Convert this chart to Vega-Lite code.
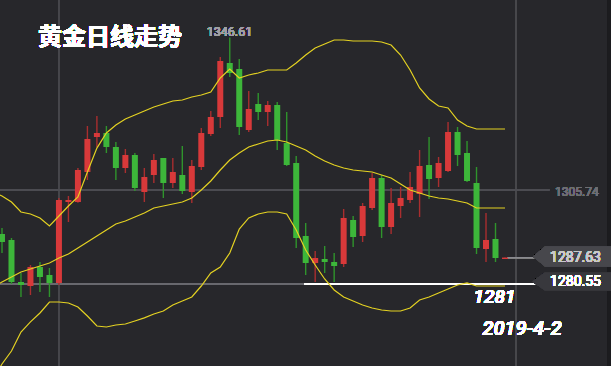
{
  "$schema": "https://vega.github.io/schema/vega-lite/v6.json",
  "width": 611,
  "height": 366,
  "autosize": {"type": "none"},
  "padding": 0,
  "background": "#27272b",
  "config": {"view": {"stroke": null}, "axis": {"domain": false}, "scale": {"continuousPadding": 0}},
  "data": {"values": [
    {"i": -1, "open": null, "high": null, "low": null, "close": null, "upper": 1305.2, "mid": 1279.7, "lower": 1254.8},
    {"i": 0, "open": 1293.95, "high": 1295.56, "low": 1288.86, "close": 1291.80, "upper": 1304.13, "mid": 1281.08, "lower": 1259.11},
    {"i": 1, "open": 1292.34, "high": 1292.88, "low": 1280.55, "close": 1281.08, "upper": 1302.52, "mid": 1282.42, "lower": 1262.59},
    {"i": 2, "open": 1281.08, "high": 1283.50, "low": 1277.06, "close": 1280.28, "upper": 1299.84, "mid": 1283.76, "lower": 1267.68},
    {"i": 3, "open": 1280.01, "high": 1285.64, "low": 1277.60, "close": 1285.10, "upper": 1299.31, "mid": 1284.57, "lower": 1270.38},
    {"i": 4, "open": 1285.10, "high": 1286.44, "low": 1278.40, "close": 1282.42, "upper": 1298.24, "mid": 1285.37, "lower": 1272.77},
    {"i": 5, "open": 1282.96, "high": 1284.84, "low": 1277.06, "close": 1280.82, "upper": 1296.09, "mid": 1286.18, "lower": 1275.72},
    {"i": 6, "open": 1280.82, "high": 1303.60, "low": 1280.28, "close": 1303.06, "upper": 1298.77, "mid": 1287.52, "lower": 1275.72},
    {"i": 7, "open": 1302.52, "high": 1304.13, "low": 1297.16, "close": 1303.06, "upper": 1301.45, "mid": 1288.59, "lower": 1275.46},
    {"i": 8, "open": 1302.52, "high": 1311.64, "low": 1302.30, "close": 1311.10, "upper": 1303.86, "mid": 1290.20, "lower": 1274.39},
    {"i": 9, "open": 1310.56, "high": 1322.89, "low": 1308.42, "close": 1319.41, "upper": 1310.56, "mid": 1291.80, "lower": 1271.97},
    {"i": 10, "open": 1319.94, "high": 1325.57, "low": 1317.26, "close": 1321.02, "upper": 1316.98, "mid": 1293.41, "lower": 1269.29},
    {"i": 11, "open": 1321.02, "high": 1322.89, "low": 1315.66, "close": 1317.26, "upper": 1321.02, "mid": 1295.02, "lower": 1269.02},
    {"i": 12, "open": 1317.26, "high": 1318.60, "low": 1308.42, "close": 1311.64, "upper": 1323.16, "mid": 1296.63, "lower": 1269.56},
    {"i": 13, "open": 1311.64, "high": 1316.73, "low": 1310.30, "close": 1315.12, "upper": 1324.77, "mid": 1297.43, "lower": 1269.83},
    {"i": 14, "open": 1315.12, "high": 1315.66, "low": 1305.47, "close": 1306.28, "upper": 1325.84, "mid": 1298.50, "lower": 1270.63},
    {"i": 15, "open": 1305.20, "high": 1311.64, "low": 1302.52, "close": 1309.22, "upper": 1326.91, "mid": 1299.58, "lower": 1271.46},
    {"i": 16, "open": 1309.76, "high": 1315.39, "low": 1307.62, "close": 1313.78, "upper": 1327.98, "mid": 1300.92, "lower": 1272.51},
    {"i": 17, "open": 1314.32, "high": 1314.32, "low": 1303.60, "close": 1307.62, "upper": 1328.79, "mid": 1301.45, "lower": 1273.31},
    {"i": 18, "open": 1307.62, "high": 1314.32, "low": 1306.28, "close": 1310.56, "upper": 1329.59, "mid": 1301.99, "lower": 1274.92},
    {"i": 19, "open": 1309.76, "high": 1317.53, "low": 1304.67, "close": 1305.47, "upper": 1329.86, "mid": 1302.52, "lower": 1275.99},
    {"i": 20, "open": 1305.20, "high": 1313.78, "low": 1302.26, "close": 1312.17, "upper": 1330.66, "mid": 1303.60, "lower": 1277.06},
    {"i": 21, "open": 1311.90, "high": 1322.36, "low": 1311.10, "close": 1321.02, "upper": 1331.20, "mid": 1305.74, "lower": 1280.01},
    {"i": 22, "open": 1320.75, "high": 1326.91, "low": 1320.21, "close": 1325.30, "upper": 1332.00, "mid": 1308.15, "lower": 1283.50},
    {"i": 23, "open": 1325.30, "high": 1341.38, "low": 1322.36, "close": 1340.31, "upper": 1335.76, "mid": 1311.10, "lower": 1285.10},
    {"i": 24, "open": 1339.78, "high": 1346.61, "low": 1336.02, "close": 1337.10, "upper": 1338.17, "mid": 1313.78, "lower": 1288.86},
    {"i": 25, "open": 1338.17, "high": 1340.85, "low": 1320.48, "close": 1322.62, "upper": 1335.76, "mid": 1315.66, "lower": 1295.29},
    {"i": 26, "open": 1321.82, "high": 1332.27, "low": 1321.28, "close": 1327.45, "upper": 1336.56, "mid": 1317.26, "lower": 1298.24},
    {"i": 27, "open": 1328.79, "high": 1331.74, "low": 1324.50, "close": 1326.64, "upper": 1337.10, "mid": 1318.07, "lower": 1299.31},
    {"i": 28, "open": 1326.64, "high": 1329.59, "low": 1322.89, "close": 1328.52, "upper": 1337.90, "mid": 1318.87, "lower": 1299.84},
    {"i": 29, "open": 1328.52, "high": 1329.32, "low": 1316.46, "close": 1319.14, "upper": 1337.90, "mid": 1319.14, "lower": 1299.84},
    {"i": 30, "open": 1318.34, "high": 1326.64, "low": 1312.17, "close": 1312.44, "upper": 1337.90, "mid": 1318.60, "lower": 1299.31},
    {"i": 31, "open": 1312.98, "high": 1314.85, "low": 1290.20, "close": 1292.88, "upper": 1339.78, "mid": 1317.53, "lower": 1295.02},
    {"i": 32, "open": 1293.41, "high": 1296.90, "low": 1282.96, "close": 1286.18, "upper": 1341.92, "mid": 1316.46, "lower": 1289.66},
    {"i": 33, "open": 1286.18, "high": 1289.39, "low": 1281.08, "close": 1287.52, "upper": 1343.80, "mid": 1314.85, "lower": 1285.64},
    {"i": 34, "open": 1287.25, "high": 1290.73, "low": 1283.50, "close": 1286.44, "upper": 1344.87, "mid": 1313.51, "lower": 1281.89},
    {"i": 35, "open": 1286.44, "high": 1288.86, "low": 1281.08, "close": 1285.37, "upper": 1345.94, "mid": 1312.44, "lower": 1278.94},
    {"i": 36, "open": 1285.91, "high": 1300.65, "low": 1285.10, "close": 1298.24, "upper": 1345.94, "mid": 1311.64, "lower": 1277.06},
    {"i": 37, "open": 1297.70, "high": 1298.77, "low": 1290.46, "close": 1293.14, "upper": 1345.67, "mid": 1311.10, "lower": 1275.99},
    {"i": 38, "open": 1293.41, "high": 1302.26, "low": 1291.80, "close": 1301.45, "upper": 1345.67, "mid": 1310.83, "lower": 1274.92},
    {"i": 39, "open": 1300.92, "high": 1310.30, "low": 1300.38, "close": 1308.96, "upper": 1345.67, "mid": 1310.56, "lower": 1274.12},
    {"i": 40, "open": 1308.96, "high": 1309.76, "low": 1292.88, "close": 1295.82, "upper": 1345.40, "mid": 1309.76, "lower": 1273.58},
    {"i": 41, "open": 1295.82, "high": 1306.28, "low": 1293.95, "close": 1302.26, "upper": 1344.60, "mid": 1308.96, "lower": 1273.31},
    {"i": 42, "open": 1301.45, "high": 1306.54, "low": 1298.24, "close": 1303.60, "upper": 1341.92, "mid": 1307.35, "lower": 1273.31},
    {"i": 43, "open": 1303.06, "high": 1310.56, "low": 1302.26, "close": 1306.54, "upper": 1337.90, "mid": 1305.74, "lower": 1274.12},
    {"i": 44, "open": 1304.67, "high": 1316.46, "low": 1298.50, "close": 1312.17, "upper": 1333.08, "mid": 1304.94, "lower": 1276.26},
    {"i": 45, "open": 1312.44, "high": 1319.94, "low": 1303.33, "close": 1308.69, "upper": 1330.13, "mid": 1304.13, "lower": 1277.06},
    {"i": 46, "open": 1308.96, "high": 1314.58, "low": 1306.54, "close": 1312.98, "upper": 1328.25, "mid": 1303.60, "lower": 1278.14},
    {"i": 47, "open": 1310.83, "high": 1323.96, "low": 1310.56, "close": 1321.28, "upper": 1327.72, "mid": 1303.33, "lower": 1279.21},
    {"i": 48, "open": 1321.28, "high": 1322.62, "low": 1312.17, "close": 1315.12, "upper": 1324.50, "mid": 1302.79, "lower": 1280.28},
    {"i": 49, "open": 1315.66, "high": 1318.87, "low": 1307.88, "close": 1308.15, "upper": 1322.89, "mid": 1302.26, "lower": 1280.82},
    {"i": 50, "open": 1307.62, "high": 1311.90, "low": 1288.59, "close": 1290.20, "upper": 1322.09, "mid": 1300.92, "lower": 1280.01},
    {"i": 51, "open": 1289.93, "high": 1299.58, "low": 1286.44, "close": 1292.34, "upper": 1322.09, "mid": 1300.92, "lower": 1280.01},
    {"i": 52, "open": 1292.61, "high": 1296.90, "low": 1286.44, "close": 1287.52, "upper": 1322.09, "mid": 1300.92, "lower": 1280.01},
    {"i": 53, "open": 1287.25, "high": 1287.63, "low": 1287.25, "close": 1287.63, "upper": 1322.09, "mid": 1300.92, "lower": 1280.01}
  ]},
  "layer": [
    {
      "mark": {"type": "rule", "color": "#48484d", "strokeWidth": 1},
      "encoding": {"x": {"datum": 6, "type": "quantitative", "scale": {"domain": [-0.21, 64.17], "nice": false, "zero": false, "padding": 0}, "axis": null}}
    },
    {
      "mark": {"type": "rule", "color": "#48484d", "strokeWidth": 1},
      "encoding": {"x": {"datum": 54.16, "type": "quantitative", "scale": {"domain": [-0.21, 64.17], "nice": false, "zero": false, "padding": 0}, "axis": null}}
    },
    {
      "mark": {"type": "rule", "color": "#4c4c52", "strokeWidth": 1},
      "encoding": {
        "x": {"datum": -0.21, "type": "quantitative", "scale": {"domain": [-0.21, 64.17], "nice": false, "zero": false, "padding": 0}, "axis": null},
        "x2": {"datum": 57.7},
        "y": {"datum": 1305.74, "type": "quantitative", "scale": {"domain": [1258.57, 1356.66], "nice": false, "zero": false, "padding": 0}, "axis": null}
      }
    },
    {
      "mark": {"type": "rule", "color": "#6a6a70", "strokeWidth": 1},
      "encoding": {
        "x": {"datum": -0.21, "type": "quantitative", "scale": {"domain": [-0.21, 64.17], "nice": false, "zero": false, "padding": 0}, "axis": null},
        "x2": {"datum": 31.9},
        "y": {"datum": 1280.55, "type": "quantitative", "scale": {"domain": [1258.57, 1356.66], "nice": false, "zero": false, "padding": 0}, "axis": null}
      }
    },
    {
      "mark": {"type": "rule", "color": "#ffffff", "strokeWidth": 1.3},
      "encoding": {
        "x": {"datum": 31.9, "type": "quantitative", "scale": {"domain": [-0.21, 64.17], "nice": false, "zero": false, "padding": 0}, "axis": null},
        "x2": {"datum": 56.2},
        "y": {"datum": 1280.55, "type": "quantitative", "scale": {"domain": [1258.57, 1356.66], "nice": false, "zero": false, "padding": 0}, "axis": null}
      }
    },
    {
      "mark": {"type": "rule", "color": "#8a8a90", "strokeWidth": 1},
      "encoding": {
        "x": {"datum": 53.3, "type": "quantitative", "scale": {"domain": [-0.21, 64.17], "nice": false, "zero": false, "padding": 0}, "axis": null},
        "x2": {"datum": 56.2},
        "y": {"datum": 1287.63, "type": "quantitative", "scale": {"domain": [1258.57, 1356.66], "nice": false, "zero": false, "padding": 0}, "axis": null}
      }
    },
    {
      "transform": [{"filter": "isValid(datum.open)"}],
      "mark": {"type": "rule", "strokeWidth": 1.4},
      "encoding": {
        "x": {"field": "i", "type": "quantitative", "scale": {"domain": [-0.21, 64.17], "nice": false, "zero": false, "padding": 0}, "axis": null},
        "y": {"field": "low", "type": "quantitative", "scale": {"domain": [1258.57, 1356.66], "nice": false, "zero": false, "padding": 0}, "axis": null},
        "y2": {"field": "high"},
        "color": {"condition": {"test": "datum.close >= datum.open", "value": "#a92e2f"}, "value": "#2f942c"}
      }
    },
    {
      "transform": [{"filter": "isValid(datum.open)"}],
      "mark": {"type": "bar", "size": 6},
      "encoding": {
        "x": {"field": "i", "type": "quantitative", "scale": {"domain": [-0.21, 64.17], "nice": false, "zero": false, "padding": 0}, "axis": null},
        "y": {"field": "open", "type": "quantitative", "scale": {"domain": [1258.57, 1356.66], "nice": false, "zero": false, "padding": 0}, "axis": null},
        "y2": {"field": "close"},
        "color": {"condition": {"test": "datum.close >= datum.open", "value": "#d8393a"}, "value": "#3db63a"}
      }
    },
    {
      "transform": [{"fold": ["upper", "mid", "lower"], "as": ["band", "v"]}],
      "mark": {"type": "line", "color": "#e4d222", "strokeWidth": 1.2, "clip": true},
      "encoding": {
        "x": {"field": "i", "type": "quantitative", "scale": {"domain": [-0.21, 64.17], "nice": false, "zero": false, "padding": 0}, "axis": null},
        "y": {"field": "v", "type": "quantitative", "scale": {"domain": [1258.57, 1356.66], "nice": false, "zero": false, "padding": 0}, "axis": null},
        "detail": {"field": "band"}
      }
    },
    {
      "mark": {"type": "rect", "color": "#1c1c1f"},
      "encoding": {
        "x": {"datum": 63.75, "type": "quantitative", "scale": {"domain": [-0.21, 64.17], "nice": false, "zero": false, "padding": 0}, "axis": null},
        "x2": {"datum": 64.17},
        "y": {"datum": 1258.57, "type": "quantitative", "scale": {"domain": [1258.57, 1356.66], "nice": false, "zero": false, "padding": 0}, "axis": null},
        "y2": {"datum": 1356.66}
      }
    },
    {
      "mark": {"type": "point", "filled": true, "opacity": 1, "size": 6400, "color": "#47474c", "strokeWidth": 0, "yOffset": -1, "shape": "M -1 0 L -0.7 -0.25 L 1 -0.25 L 1 0.25 L -0.7 0.25 Z"},
      "encoding": {
        "x": {"datum": 60.17, "type": "quantitative", "scale": {"domain": [-0.21, 64.17], "nice": false, "zero": false, "padding": 0}, "axis": null},
        "y": {"datum": 1287.63, "type": "quantitative", "scale": {"domain": [1258.57, 1356.66], "nice": false, "zero": false, "padding": 0}, "axis": null}
      }
    },
    {
      "mark": {"type": "point", "filled": true, "opacity": 1, "size": 6400, "color": "#38383d", "strokeWidth": 0, "yOffset": -2.5, "shape": "M -1 0 L -0.7 -0.22 L 1 -0.22 L 1 0.22 L -0.7 0.22 Z"},
      "encoding": {
        "x": {"datum": 60.1, "type": "quantitative", "scale": {"domain": [-0.21, 64.17], "nice": false, "zero": false, "padding": 0}, "axis": null},
        "y": {"datum": 1280.55, "type": "quantitative", "scale": {"domain": [1258.57, 1356.66], "nice": false, "zero": false, "padding": 0}, "axis": null}
      }
    },
    {
      "mark": {"type": "text", "align": "left", "baseline": "middle", "font": "Roboto", "fontSize": 14, "color": "#c8c8cc"},
      "encoding": {
        "x": {"datum": 57.75, "type": "quantitative", "scale": {"domain": [-0.21, 64.17], "nice": false, "zero": false, "padding": 0}, "axis": null},
        "y": {"datum": 1287.63, "type": "quantitative", "scale": {"domain": [1258.57, 1356.66], "nice": false, "zero": false, "padding": 0}, "axis": null},
        "text": {"value": "1287.63"}
      }
    },
    {
      "mark": {"type": "text", "align": "left", "baseline": "middle", "font": "Roboto", "fontSize": 14, "color": "#ffffff", "dy": -1.5},
      "encoding": {
        "x": {"datum": 57.75, "type": "quantitative", "scale": {"domain": [-0.21, 64.17], "nice": false, "zero": false, "padding": 0}, "axis": null},
        "y": {"datum": 1280.55, "type": "quantitative", "scale": {"domain": [1258.57, 1356.66], "nice": false, "zero": false, "padding": 0}, "axis": null},
        "text": {"value": "1280.55"}
      }
    },
    {
      "mark": {"type": "text", "align": "left", "baseline": "middle", "font": "Roboto", "fontSize": 12, "color": "#6e6e74", "dy": 2},
      "encoding": {
        "x": {"datum": 58.27, "type": "quantitative", "scale": {"domain": [-0.21, 64.17], "nice": false, "zero": false, "padding": 0}, "axis": null},
        "y": {"datum": 1305.74, "type": "quantitative", "scale": {"domain": [1258.57, 1356.66], "nice": false, "zero": false, "padding": 0}, "axis": null},
        "text": {"value": "1305.74"}
      }
    },
    {
      "mark": {"type": "text", "align": "center", "baseline": "middle", "font": "Roboto", "fontSize": 12.5, "color": "#a0a0a5"},
      "encoding": {
        "x": {"datum": 23.97, "type": "quantitative", "scale": {"domain": [-0.21, 64.17], "nice": false, "zero": false, "padding": 0}, "axis": null},
        "y": {"datum": 1347.95, "type": "quantitative", "scale": {"domain": [1258.57, 1356.66], "nice": false, "zero": false, "padding": 0}, "axis": null},
        "text": {"value": "1346.61"}
      }
    },
    {
      "mark": {"type": "text", "align": "center", "baseline": "middle", "font": "Noto Sans CJK SC", "fontWeight": "bold", "fontSize": 24, "color": "#ffffff"},
      "encoding": {
        "x": {"datum": 11.38, "type": "quantitative", "scale": {"domain": [-0.21, 64.17], "nice": false, "zero": false, "padding": 0}, "axis": null},
        "y": {"datum": 1346.47, "type": "quantitative", "scale": {"domain": [1258.57, 1356.66], "nice": false, "zero": false, "padding": 0}, "axis": null},
        "text": {"value": "黄金日线走势"}
      }
    },
    {
      "mark": {"type": "text", "align": "center", "baseline": "middle", "font": "Roboto", "fontStyle": "italic", "fontWeight": 500, "fontSize": 19, "color": "#ffffff"},
      "encoding": {
        "x": {"datum": 51.9, "type": "quantitative", "scale": {"domain": [-0.21, 64.17], "nice": false, "zero": false, "padding": 0}, "axis": null},
        "y": {"datum": 1276.93, "type": "quantitative", "scale": {"domain": [1258.57, 1356.66], "nice": false, "zero": false, "padding": 0}, "axis": null},
        "text": {"value": "1281"}
      }
    },
    {
      "mark": {"type": "text", "align": "center", "baseline": "middle", "font": "Roboto", "fontStyle": "italic", "fontWeight": 500, "fontSize": 20, "color": "#ffffff"},
      "encoding": {
        "x": {"datum": 54.8, "type": "quantitative", "scale": {"domain": [-0.21, 64.17], "nice": false, "zero": false, "padding": 0}, "axis": null},
        "y": {"datum": 1268.62, "type": "quantitative", "scale": {"domain": [1258.57, 1356.66], "nice": false, "zero": false, "padding": 0}, "axis": null},
        "text": {"value": "2019-4-2"}
      }
    }
  ]
}
